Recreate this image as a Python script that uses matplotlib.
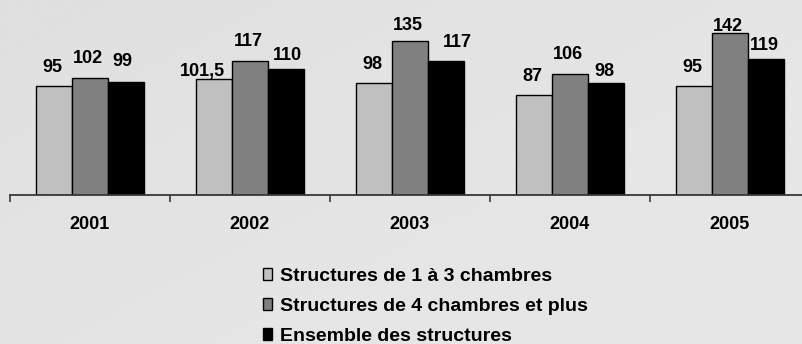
import matplotlib
matplotlib.use('Agg')
import matplotlib.pyplot as plt
import numpy as np

# Données : prix moyen par structure
annees = ['2001', '2002', '2003', '2004', '2005']
petites = [95, 101.5, 98, 87, 95]          # 1 à 3 chambres
grandes = [102, 117, 135, 106, 142]        # 4 chambres et plus
ensemble = [99, 110, 117, 98, 119]         # toutes structures

series = [
    ("Structures de 1 à 3 chambres", petites, '#c0c0c0'),
    ("Structures de 4 chambres et plus", grandes, '#808080'),
    ("Ensemble des structures", ensemble, '#000000'),
]

# décalage des étiquettes (px) : (dx, écart au-dessus de la barre)
decalages = [
    [(0, 14.5), (-10, 2.5), (0, 14), (0, 14.5), (0, 14)],
    [(0, 15), (0, 15), (0, 10.5), (0, 14.5), (0, 2)],
    [(-2, 15.5), (3, 9), (13, 14.5), (0, 6.5), (0, 9)],
]

plt.rcParams['font.family'] = ['Liberation Sans', 'DejaVu Sans']
plt.rcParams['font.weight'] = 'bold'

W, H = 803, 344
fig = plt.figure(figsize=(W / 100, H / 100), dpi=100, facecolor='#e2e2e2')

# fond légèrement dégradé
bg = fig.add_axes([0, 0, 1, 1], zorder=-10)
yy, xx = np.mgrid[0:1:200j, 0:1:400j]
fond = 0.9 - 0.035 * np.clip((1 - xx) * 0.6 + (1 - yy) * 0.5 - 0.4, 0, 1)
bg.imshow(fond, cmap='gray', vmin=0, vmax=1, aspect='auto',
          extent=[0, 1, 0, 1], origin='upper', interpolation='bicubic')
bg.axis('off')

ax = fig.add_axes([10 / W, 149 / H, 800 / W, 195 / H])
ax.set_facecolor('none')

x = np.arange(len(annees))
bw = 0.225
px = 72 / 100
for k, (nom, vals, col) in enumerate(series):
    pos = x + (k - 1) * bw
    bars = ax.bar(pos, vals, width=bw, color=col, edgecolor='black',
                  linewidth=1.0, label=nom, zorder=2)
    for b, v, (dx, dy) in zip(bars, vals, decalages[k]):
        txt = ('%g' % v).replace('.', ',')
        ax.annotate(txt, (b.get_x() + b.get_width() / 2, v),
                    xytext=((dx - 2) * px, dy * px), textcoords='offset points',
                    ha='center', va='baseline', fontsize=13, fontweight='bold')

ax.set_xlim(-0.5, 4.5)
ax.set_ylim(0, 170.5)
for s in ['top', 'right', 'left']:
    ax.spines[s].set_visible(False)
ax.spines['bottom'].set_color('#383838')
ax.spines['bottom'].set_linewidth(1.3)
ax.set_yticks([])

ax.set_xticks(x)
ax.set_xticklabels(annees, fontsize=13, fontweight='bold')
ax.tick_params(axis='x', which='major', length=0, pad=15)
ax.set_xticks(np.arange(-0.5, 5.0, 1.0), minor=True)
ax.tick_params(axis='x', which='minor', length=5, width=1.2,
               color='#383838', direction='out')

fig.legend(loc='upper left', bbox_to_anchor=(263 / W, 1 - 268 / H),
           frameon=False, fontsize=14, handlelength=0.45, handleheight=0.6,
           handletextpad=0.45, labelspacing=0.66, borderpad=0, borderaxespad=0)

fig.savefig('out.png', dpi=100, facecolor=fig.get_facecolor())
